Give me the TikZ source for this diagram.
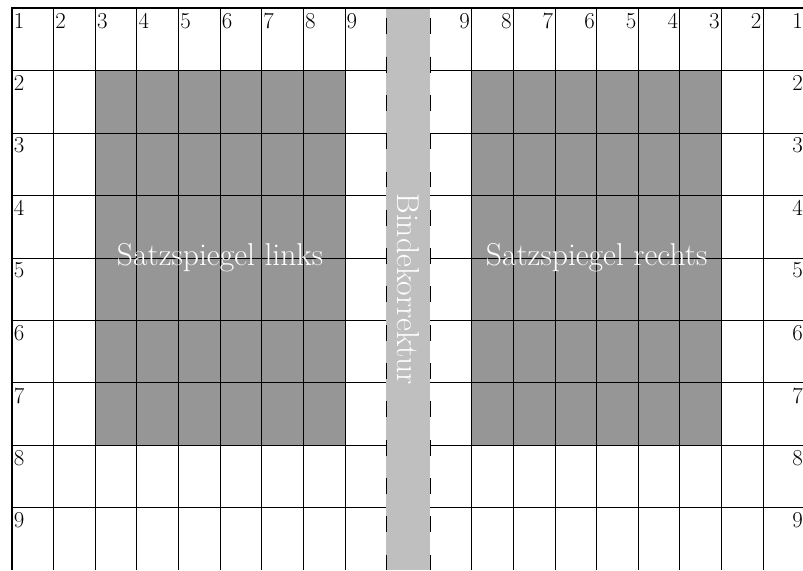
\documentclass[tikz,border=0pt]{standalone}
\usepackage{tikz}

\colorlet{satzgrau}{black!41}
\colorlet{bindegrau}{black!25}

\tikzset{
  nummer/.style={inner xsep=1pt,inner ysep=3pt,font=\fontsize{15.6}{17}\selectfont},
  satzlabel/.style={text=white,inner sep=0pt,font=\fontsize{21.6}{24}\selectfont},
  seitenrand/.style={line width=1.6pt},
  bindestrich/.style={line width=0.8pt,dash pattern=on 10.9pt off 15.3pt,dash phase=19.4pt}
}

\begin{document}
\begin{tikzpicture}[x=1cm,y=1.5cm,line width=0.5pt]
\def\seiteR{10.05}
\clip (-0.288,-9) rectangle (19.01,0.1333);
% bindekorrektur
\fill[bindegrau] (9,0) rectangle (\seiteR,-9);
% left page
\fill[satzgrau] (2,-1) rectangle (8,-7);
\foreach \i in {1,...,8}
  \draw (\i,0) -- (\i,-9);
\foreach \j in {1,...,8}
  \draw (0,-\j) -- (9,-\j);
\foreach \i in {1,...,9}
  \node[nummer,anchor=north west] (lc\i) at (\i-1,0) {\i};
\foreach \j in {2,...,9}
  \node[nummer,anchor=north west] (lr\j) at (0,1-\j) {\j};
\node[satzlabel] (links) at (5,-4) {Satzspiegel links};
% right page
\scope[xshift=\seiteR cm]
\fill[satzgrau] (1,-1) rectangle (7,-7);
\foreach \i in {1,...,8}
  \draw (\i,0) -- (\i,-9);
\foreach \j in {1,...,8}
  \draw (0,-\j) -- (9,-\j);
\foreach \i in {1,...,9}
  \node[nummer,anchor=north east] (rc\i) at (10-\i,0) {\i};
\foreach \j in {2,...,9}
  \node[nummer,anchor=north east] (rr\j) at (9,1-\j) {\j};
\node[satzlabel] (rechts) at (4,-4) {Satzspiegel rechts};
\endscope
% outline
\draw[seitenrand] (0,-9) -- (0,0) -- (\seiteR+9,0);
\draw[bindestrich] (9,0) -- (9,-9) (\seiteR,0) -- (\seiteR,-9);
\node[satzlabel,rotate=-90] (binde) at ({(9+\seiteR)/2},-4.5) {Bindekorrektur};
\end{tikzpicture}
\end{document}
